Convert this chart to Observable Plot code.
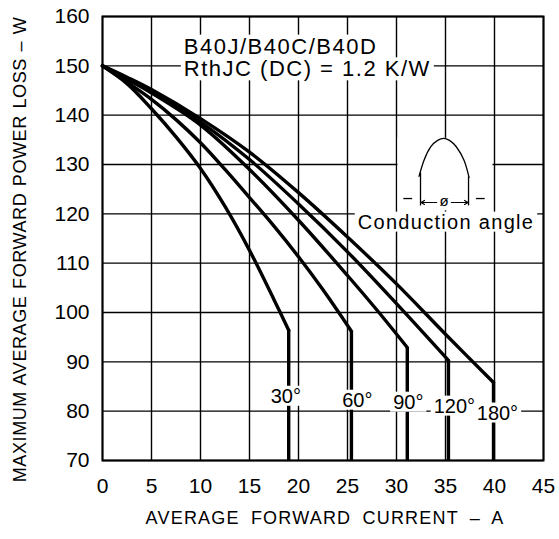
<!DOCTYPE html>
<html><head><meta charset="utf-8">
<script src="https://cdn.jsdelivr.net/npm/d3@7"></script>
<script src="https://cdn.jsdelivr.net/npm/@observablehq/plot@0.6"></script>
<style>body{margin:0;background:#fff;}</style>
</head><body><div id="chart"></div>
<script>
// ---- data ----
const xTicks = [0, 5, 10, 15, 20, 25, 30, 35, 40, 45];
const yTicks = [70, 80, 90, 100, 110, 120, 130, 140, 150, 160];
const seriesNames = ["30°", "60°", "90°", "120°", "180°"];
const current30 = [0, 2.5, 5, 7.5, 10, 12.5, 15, 17.5, 19.0];
const loss30 = [150, 146.4, 141.3, 135.6, 129.2, 121.5, 112.6, 102.6, 96.4];
const current60 = [0, 2.5, 5, 7.5, 10, 12.5, 15, 17.5, 20, 22.5, 25.4];
const loss60 = [150, 146.7, 143.2, 139.1, 134.4, 129.0, 123.3, 117.5, 111.3, 104.6, 96.2];
const current90 = [0, 2.5, 5, 10, 15, 20, 25, 28, 31.1];
const loss90 = [150, 147.3, 144.5, 138.0, 129.0, 118.7, 107.5, 100.5, 92.9];
const current120 = [0, 2.5, 5, 10, 15, 20, 25, 30, 35.3];
const loss120 = [150, 147.5, 144.8, 138.6, 131.0, 122.0, 112.3, 101.8, 90.3];
const current180 = [0, 2.5, 5, 10, 15, 20, 25, 30, 35, 39.9];
const loss180 = [150, 147.7, 145.2, 139.3, 132.5, 124.3, 115.3, 105.8, 95.6, 85.8];
const floorLoss = 70;

const titleLines = ["B40J/B40C/B40D", "RthJC (DC) = 1.2 K/W"];
const xLabel = "AVERAGE FORWARD CURRENT – A";
const yLabel = "MAXIMUM AVERAGE FORWARD POWER LOSS – W";
const insetLabel = "Conduction angle";
const insetSymbol = "ø";

// ---- annotation placement (data units) ----
const labelX = [18.7, 26.0, 31.2, 35.9, 40.3];
const labelY = [83.0, 82.2, 81.8, 81.0, 79.6];
const titleX = 8.3;
const titleY = [153.9, 149.3];
const bumpX = [32.3, 32.8, 33.5, 34.2, 34.8, 35.4, 36.1, 36.9, 37.4];
const bumpY = [127.6, 130.8, 133.6, 134.9, 135.3, 134.9, 133.6, 130.8, 127.4];
const insetBox = {x1: 30.15, x2: 39.85, y1: 120.6, y2: 135.3};
const insetTicks = [
  {x1: 32.45, y1: 121.7, x2: 32.45, y2: 128.4},
  {x1: 37.35, y1: 121.7, x2: 37.35, y2: 127.6},
  {x1: 30.7, y1: 123.1, x2: 31.6, y2: 123.1},
  {x1: 38.1, y1: 123.1, x2: 39.0, y2: 123.1}
];
const insetArrows = [
  {x1: 34.1, y1: 122.3, x2: 32.5, y2: 122.3},
  {x1: 35.6, y1: 122.3, x2: 37.3, y2: 122.3}
];

// ---- tables built from the arrays ----
const currents = [current30, current60, current90, current120, current180];
const losses = [loss30, loss60, loss90, loss120, loss180];
const curves = seriesNames.flatMap((s, i) => currents[i].map((c, j) => ({series: s, current: c, loss: losses[i][j]})));
const drops = seriesNames.map((s, i) => ({series: s, current: currents[i][currents[i].length - 1], loss: losses[i][losses[i].length - 1]}));
const bump = bumpX.map((x, i) => ({x, y: bumpY[i]}));

const chart = Plot.plot({
  width: 559, height: 539,
  marginLeft: 102, marginRight: 16, marginTop: 16, marginBottom: 79,
  style: {fontFamily: "'Liberation Sans', Arial, sans-serif", fontSize: "21px", background: "white", color: "black", overflow: "visible"},
  x: {domain: [0, 45]},
  y: {domain: [70, 160]},
  marks: [
    Plot.ruleX(xTicks, {stroke: "black", strokeWidth: 1.4}),
    Plot.ruleY(yTicks, {stroke: "black", strokeWidth: 1.4}),
    Plot.rect([insetBox], {x1: "x1", x2: "x2", y1: "y1", y2: "y2", fill: "white"}),
    Plot.line(curves, {x: "current", y: "loss", z: "series", curve: "catmull-rom", stroke: "black", strokeWidth: 3.4, strokeLinejoin: "round"}),
    Plot.ruleX(drops, {x: "current", y1: () => floorLoss, y2: "loss", stroke: "black", strokeWidth: 3.4}),
    Plot.line(bump, {x: "x", y: "y", curve: "natural", stroke: "black", strokeWidth: 1.3}),
    Plot.link(insetTicks, {x1: "x1", y1: "y1", x2: "x2", y2: "y2", stroke: "black", strokeWidth: 1.3}),
    Plot.arrow(insetArrows, {x1: "x1", y1: "y1", x2: "x2", y2: "y2", stroke: "black", strokeWidth: 1.2, headLength: 5}),
    Plot.text([insetSymbol], {x: () => 34.85, y: () => 122.6, text: d => d, fontSize: 15}),
    Plot.text([insetLabel], {x: () => 35.05, y: () => 118.3, text: d => d, fontSize: 20, fill: "black"}),
    Plot.text(titleLines, {x: () => titleX, y: (d, i) => titleY[i], text: d => d, textAnchor: "start", fontSize: 22, fill: "black"}),
    Plot.text(seriesNames, {x: (d, i) => labelX[i], y: (d, i) => labelY[i], text: d => d, fontSize: 20, fill: "black"}),
    Plot.frame({stroke: "black", strokeWidth: 2}),
    Plot.axisX({ticks: xTicks, tickSize: 0, tickPadding: 18, label: null, fontSize: 21}),
    Plot.axisY({ticks: yTicks, tickSize: 0, tickPadding: 13, label: null, fontSize: 21}),
    Plot.text([xLabel], {frameAnchor: "bottom", lineAnchor: "middle", textAnchor: "middle", dx: 2, dy: 58, text: d => d, fontSize: 18}),
    Plot.text([yLabel], {frameAnchor: "left", lineAnchor: "middle", textAnchor: "middle", dx: -82, dy: 11, rotate: -90, text: d => d, fontSize: 18})
  ]
});
document.getElementById("chart").appendChild(chart);
const svg = d3.select(chart);
const byText = (list) => svg.selectAll("text").filter(function() { return list.includes(this.textContent); });
byText(titleLines).style("letter-spacing", "1.5px");
byText([insetLabel]).style("letter-spacing", "1.3px");
byText([xLabel]).style("letter-spacing", "1.2px").style("word-spacing", "5px");
byText([yLabel]).style("letter-spacing", "0.6px").style("word-spacing", "1px");
// white boxes behind annotation texts (gaps in grid and curves like the reference)
byText([...titleLines, insetLabel, ...seriesNames]).each(function() {
  const b = this.getBBox();
  const padX = 3, padY = -1;
  d3.select(this.parentNode).insert("rect", () => this)
    .attr("x", b.x - padX).attr("y", b.y - padY)
    .attr("width", b.width + 2 * padX).attr("height", b.height + 2 * padY)
    .attr("transform", this.getAttribute("transform"))
    .attr("fill", "white").attr("stroke", "none");
});
</script>
</body></html>
